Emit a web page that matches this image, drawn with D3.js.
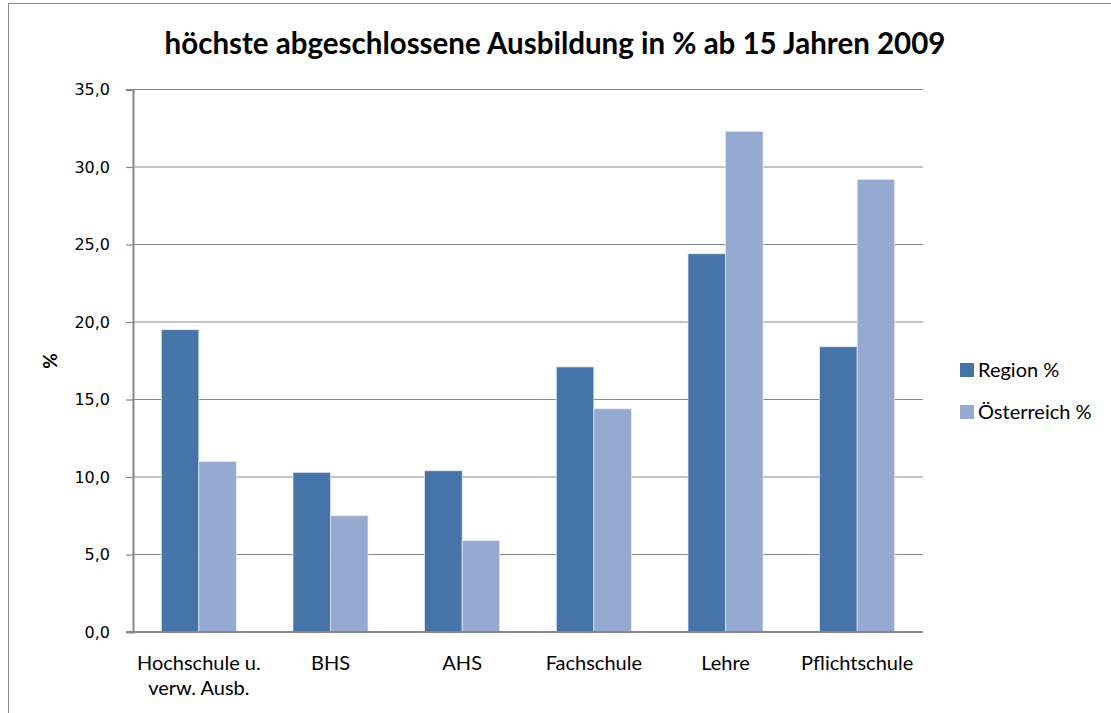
<!DOCTYPE html>
<html lang="de">
<head>
<meta charset="UTF-8">
<title>höchste abgeschlossene Ausbildung</title>
<script src="https://d3js.org/d3.v7.min.js"></script>
<style>
  body { margin: 0; background: #fff; }
  svg { display: block; }
  .title { font-family: Lato, sans-serif; font-weight: bold; font-size: 29.5px; fill: #000; }
  .tick text { font-family: "DejaVu Sans", Verdana, sans-serif; font-size: 16px; fill: #000; }
  .xlab { font-family: Lato, sans-serif; font-size: 20px; fill: #000; }
  .legend text { font-family: Lato, sans-serif; font-size: 20px; fill: #000; }
</style>
</head>
<body>
<svg width="1111" height="713"></svg>
<script>
const categories = ["Hochschule u.|verw. Ausb.", "BHS", "AHS", "Fachschule", "Lehre", "Pflichtschule"];
const seriesNames = ["Region %", "Österreich %"];
const regionValues = [19.5, 10.3, 10.4, 17.1, 24.4, 18.4];
const oesterreichValues = [11.0, 7.5, 5.9, 14.4, 32.3, 29.2];
const yTicks = [0, 5, 10, 15, 20, 25, 30, 35];
const colors = ["#4673a8", "#96aad1"];

const width = 1111, height = 713;
const margin = {left: 133, right: 188, top: 89.5, bottom: 81};
const innerW = width - margin.left - margin.right;
const innerH = height - margin.top - margin.bottom;

const svg = d3.select("svg");

// outer frame
svg.append("rect")
  .attr("x", 8.5).attr("y", 3.5)
  .attr("width", 1120).attr("height", 720)
  .attr("fill", "none").attr("stroke", "#8c8c8c").attr("stroke-width", 1);

svg.append("text")
  .attr("class", "title")
  .attr("x", 555).attr("y", 54)
  .attr("text-anchor", "middle")
  .text("höchste abgeschlossene Ausbildung in % ab 15 Jahren 2009");

const g = svg.append("g").attr("transform", `translate(${margin.left},${margin.top})`);

const x = d3.scaleBand().domain(categories).range([0, innerW]).paddingInner(0.43).paddingOuter(0.215);
const xs = d3.scaleBand().domain(seriesNames).range([0, x.bandwidth()]);
const y = d3.scaleLinear().domain([0, 35]).range([innerH, 0]);

// gridlines
g.append("g")
  .selectAll("line")
  .data(yTicks)
  .join("line")
  .attr("x1", 0).attr("x2", innerW)
  .attr("y1", d => y(d)).attr("y2", d => y(d))
  .attr("stroke", "#878787").attr("stroke-width", 1.2);

// y axis
const yAxis = g.append("g")
  .call(d3.axisLeft(y).tickValues(yTicks).tickSize(7).tickPadding(16)
    .tickFormat(d => d3.format(".1f")(d).replace(".", ",")));
yAxis.select(".domain").attr("stroke", "#878787").attr("stroke-width", 2);
yAxis.selectAll(".tick line").attr("stroke", "#878787").attr("stroke-width", 1.2);

// bars
const data = categories.map((c, i) => ({cat: c, vals: [regionValues[i], oesterreichValues[i]]}));
const groups = g.selectAll(".grp").data(data).join("g")
  .attr("class", "grp")
  .attr("transform", d => `translate(${x(d.cat)},0)`);
groups.selectAll("rect")
  .data(d => d.vals.map((v, j) => ({name: seriesNames[j], v, j})))
  .join("rect")
  .attr("x", d => xs(d.name))
  .attr("width", xs.bandwidth())
  .attr("y", d => y(d.v))
  .attr("height", d => innerH - y(d.v))
  .attr("fill", d => colors[d.j])
  .attr("stroke", "#e6ecf5").attr("stroke-width", 0.7);

// x baseline
g.append("line")
  .attr("x1", -7).attr("x2", innerW)
  .attr("y1", innerH).attr("y2", innerH)
  .attr("stroke", "#878787").attr("stroke-width", 2);

// x labels
const xl = g.selectAll(".xlab").data(categories).join("text")
  .attr("class", "xlab")
  .attr("text-anchor", "middle")
  .attr("x", d => x(d) + x.bandwidth() / 2)
  .attr("y", innerH + 38);
xl.selectAll("tspan")
  .data(d => d.split("|"))
  .join("tspan")
  .attr("x", function() { return d3.select(this.parentNode).attr("x"); })
  .attr("dy", (d, i) => i === 0 ? 0 : 25)
  .text(d => d);

// y axis title
svg.append("text")
  .attr("transform", "translate(57,361) rotate(-90)")
  .attr("text-anchor", "middle")
  .attr("font-family", "Lato, sans-serif")
  .attr("font-weight", "bold")
  .attr("font-size", 19)
  .text("%");

// legend
const legend = svg.append("g").attr("class", "legend").attr("transform", "translate(960,363)");
const li = legend.selectAll("g").data(seriesNames).join("g")
  .attr("transform", (d, i) => `translate(0,${i * 42})`);
li.append("rect").attr("width", 14).attr("height", 14).attr("fill", (d, i) => colors[i]);
li.append("text").attr("x", 18).attr("y", 14).text(d => d);
</script>
</body>
</html>
